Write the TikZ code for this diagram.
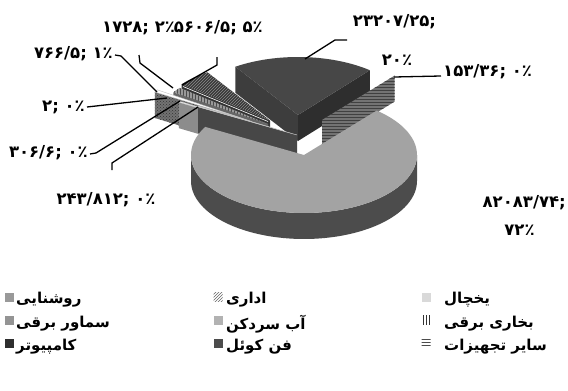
\documentclass[tikz,border=0pt]{standalone}
\usepackage{fontspec}
\newfontfamily\fa[Script=Arabic]{DejaVu Sans}
\newfontfamily\fanum{DejaVu Sans}
\TeXXeTstate=1
\usetikzlibrary{patterns}
\begin{document}
\begin{tikzpicture}[x=1pt,y=-1pt,
  lbl/.style={font=\fanum\bfseries\fontsize{16.5}{17}\selectfont, inner sep=0pt},
  leg/.style={font=\fa\bfseries\fontsize{15}{16}\selectfont, inner sep=0pt, anchor=west},
  sq/.style={minimum size=9pt, inner sep=0pt, anchor=center},
  lead/.style={line width=1.3pt, black},
  bigtop/.style={fill=black!36},
  bigside/.style={fill=black!70},
  darktop/.style={fill=black!72},
  darkleft/.style={fill=black!76},
  darkright/.style={fill=black!82},
  thinface/.style={fill=black!55},
  sfive/.style={fill=black!78},
  ssix/.style={fill=black!40},
  sseven/.style={fill=black!55},
  snine/.style={fill=black!45},
  sten/.style={fill=black!72},
  sliver/.style={fill=white, draw=black!25, line width=0.4pt}
]
\useasboundingbox[fill=white] (0,0) rectangle (568,391);

% ---- dark slice (20%)
\fill[darkleft] (235.3,66.7) -- (298,115) -- (298,141) -- (235.3,92.7) -- cycle;
\fill[darkright] (298,115) -- (369.9,70.2) -- (369.9,96.2) -- (298,141) -- cycle;
\fill[darktop] (298,115) -- plot[domain=50.5:123.7,samples=40,variable=\t] ({298+113*cos(\t)},{115-58*sin(\t)}) -- cycle;

% ---- thin slice (153.36)
\fill[thinface] (322,120) -- (394.6,75.6) -- (394.6,101.6) -- (322,146) -- cycle;
\fill[pattern=horizontal lines, pattern color=black!75] (322,120) -- (394.6,75.6) -- (394.6,101.6) -- (322,146) -- cycle;

% ---- 5606.5 slice
\fill[black!80] (181.7,84.3) -- (270,120.5) -- (270,146.5) -- (181.7,110.3) -- cycle;
\fill[sfive] (270,120.5) -- plot[domain=123.7:141.4,samples=20,variable=\t] ({270+113*cos(\t)},{120.5-58*sin(\t)}) -- cycle;
\fill[pattern=north east lines, pattern color=black!45] (270,120.5) -- plot[domain=123.7:141.4,samples=20,variable=\t] ({270+113*cos(\t)},{120.5-58*sin(\t)}) -- cycle;
\draw[white, line width=0.6pt] (183,86.5) -- (268,121.5);

% ---- 1728 slice
\fill[black!60] (173.4,92.3) -- (268,124) -- (268,150) -- (173.4,118.3) -- cycle;
\fill[ssix] (268,124) -- plot[domain=141.4:146.85,samples=10,variable=\t] ({268+113*cos(\t)},{124-58*sin(\t)}) -- cycle;
\fill[pattern=vertical lines, pattern color=black!70] (268,124) -- plot[domain=141.4:146.85,samples=10,variable=\t] ({268+113*cos(\t)},{124-58*sin(\t)}) -- cycle;

% ---- 766.5 slice
\fill[sseven] (154.9,92) -- (252,121.6) -- (252,147.6) -- (154.9,118) -- cycle;
\fill[pattern=crosshatch dots, pattern color=black!80] (154.9,92) -- (252,121.6) -- (252,147.6) -- (154.9,118) -- cycle;
\filldraw[sliver] (252,121.6) -- plot[domain=146.85:149.27,samples=6,variable=\t] ({252+113*cos(\t)},{121.6-58*sin(\t)}) -- cycle;

% ---- 306.6 slice
\fill[snine] (178.9,102.2) -- (277,131) -- (277,157) -- (178.9,128.2) -- cycle;
\filldraw[sliver] (277,131) -- plot[domain=149.27:150.24,samples=4,variable=\t] ({277+113*cos(\t)},{131-58*sin(\t)}) -- cycle;

% ---- 243.812 slice
\fill[sten] (198.2,106.9) -- (297,135) -- (297,161) -- (198.2,132.9) -- cycle;
\filldraw[sliver] (297,135) -- plot[domain=150.24:151,samples=4,variable=\t] ({297+113*cos(\t)},{135-58*sin(\t)}) -- cycle;

% ---- big slice (72%)
\fill[bigside] plot[domain=180:360,samples=80,variable=\t] ({304+113*cos(\t)},{155-58*sin(\t)}) -- plot[domain=360:180,samples=80,variable=\t] ({304+113*cos(\t)},{181-58*sin(\t)}) -- cycle;
\fill[bigtop] (304,155) -- plot[domain=50:-209,samples=120,variable=\t] ({304+113*cos(\t)},{155-58*sin(\t)}) -- cycle;

% ---- data labels
\node[lbl] (l23207) at (394.5,22) {۲۳۲۰۷/۲۵;};
\node[lbl] (l20) at (397,60) {۲۰٪};
\node[lbl, anchor=west] (l153) at (443,72) {۱۵۳/۳۶; ۰٪};
\node[lbl, anchor=east] (l82083) at (566,203) {۸۲۰۸۳/۷۴;};
\node[lbl] (l72) at (519.5,230) {۷۲٪};
\node[lbl, anchor=west] (l1728) at (102,28) {۱۷۲۸; ۲٪};
\node[lbl, anchor=east] (l5606) at (263,28) {۵۶۰۶/۵; ۵٪};
\node[lbl, anchor=east] (l766) at (113,54) {۷۶۶/۵; ۱٪};
\node[lbl, anchor=east] (l2) at (85,107) {۲; ۰٪};
\node[lbl, anchor=east] (l306) at (88,153) {۳۰۶/۶; ۰٪};
\node[lbl] (l243) at (106,200) {۲۴۳/۸۱۲; ۰٪};

% ---- leader lines
\coordinate (p23207a) at (347,40); \coordinate (p23207b) at (335,40); \coordinate (p23207) at (305,59);
\coordinate (p153a) at (441,76); \coordinate (p153) at (394,77);
\coordinate (p766a) at (115,55); \coordinate (p766b) at (121,56); \coordinate (p766) at (157,92);
\coordinate (p1728a) at (139,55); \coordinate (p1728b) at (140,63); \coordinate (p1728) at (173,88);
\coordinate (p5606a) at (217,57); \coordinate (p5606b) at (217,65); \coordinate (p5606) at (182,85);
\coordinate (p2a) at (87,107); \coordinate (p2) at (167,98);
\coordinate (p306a) at (90,154); \coordinate (p306b) at (96,153); \coordinate (p306) at (180,101);
\coordinate (p243a) at (112,170); \coordinate (p243b) at (112,163); \coordinate (p243) at (198,107);
\draw[lead] (p23207a) -- (p23207b) -- (p23207);
\draw[lead] (p153a) -- (p153);
\draw[lead] (p766a) -- (p766b) -- (p766);
\draw[lead] (p1728a) -- (p1728b) -- (p1728);
\draw[lead] (p5606a) -- (p5606b) -- (p5606);
\draw[lead] (p2a) -- (p2);
\draw[lead] (p306a) -- (p306b) -- (p306);
\draw[lead] (p243a) -- (p243b) -- (p243);

% ---- legend
\node[sq, fill=black!15] (s1) at (426,297) {};
\node[leg] (t1) at (444,300) {\beginR یخچال\endR};
\node[sq, fill=black!45, pattern=north east lines, pattern color=black!60] (s2) at (218,297) {};
\node[leg] (t2) at (226,300) {\beginR اداری\endR};
\node[sq, fill=black!40] (s3) at (9,297) {};
\node[leg] (t3) at (16,300) {\beginR روشنایی\endR};
\node[sq, pattern=vertical lines, pattern color=black!80] (s4) at (426,320) {};
\node[leg] (t4) at (444,324) {\beginR بخاری برقی\endR};
\node[sq, fill=black!30] (s5) at (218,320) {};
\node[leg] (t5) at (226,324) {\beginR آب سردکن\endR};
\node[sq, fill=black!42] (s6) at (9,320) {};
\node[leg] (t6) at (16,324) {\beginR سماور برقی\endR};
\node[sq, pattern=horizontal lines, pattern color=black!70] (s7) at (426,343) {};
\node[leg] (t7) at (444,347) {\beginR سایر تجهیزات\endR};
\node[sq, fill=black!70] (s8) at (218,343) {};
\node[leg] (t8) at (226,347) {\beginR فن کوئل\endR};
\node[sq, fill=black!82] (s9) at (9,343) {};
\node[leg] (t9) at (16,347) {\beginR کامپیوتر\endR};
\end{tikzpicture}
\end{document}
